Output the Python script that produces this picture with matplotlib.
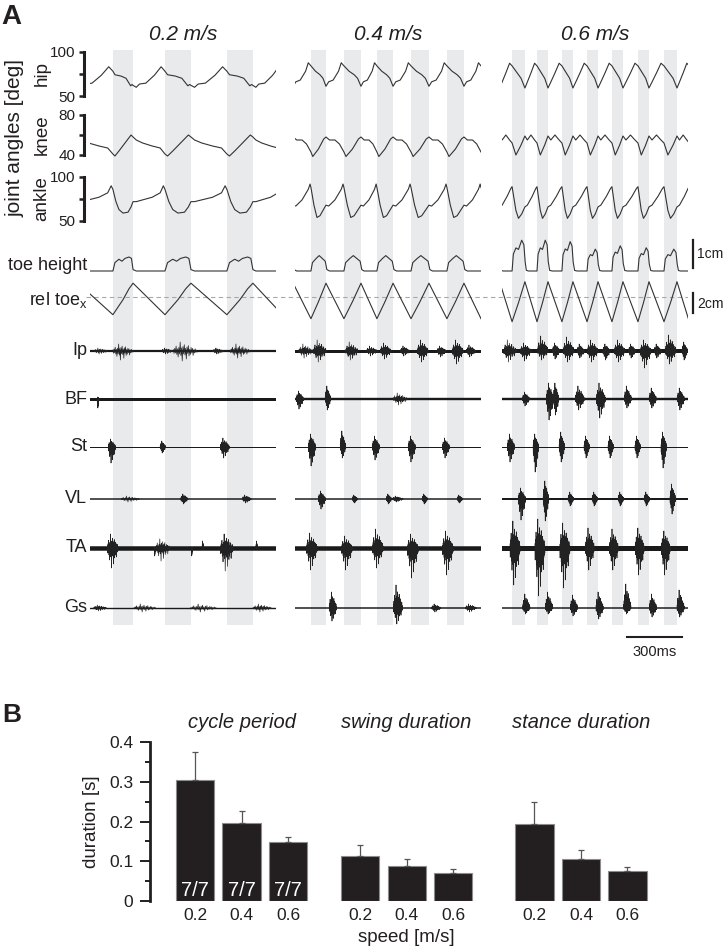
import numpy as np
import matplotlib
matplotlib.use('Agg')
import matplotlib.pyplot as plt
from matplotlib import font_manager
from matplotlib.transforms import blended_transform_factory

W, H = 726, 951
plt.rcParams['font.family'] = ['Liberation Sans', 'DejaVu Sans']
plt.rcParams['mathtext.fontset'] = 'custom'
plt.rcParams['mathtext.rm'] = 'Liberation Sans'
installed = {f.name for f in font_manager.fontManager.ttflist}
NARROW = 'Liberation Sans Narrow' if 'Liberation Sans Narrow' in installed else 'Liberation Sans'

TXT = '#231f20'
TRACE = '#333333'
BAND = '#e8eaec'

# ---------------- panel A data ----------------
speed_titles = ['0.2 m/s', '0.4 m/s', '0.6 m/s']
sweep_ms = 1015

# swing phases (grey bands) in ms, first/last pair sit just outside the window
swing_02 = [(-175, -65), (125, 235), (409, 551), (747, 889), (1050, 1160)]
swing_04 = [(-98, -10), (87, 169), (267, 360), (447, 535), (633, 731), (829, 922), (1015, 1105)]
swing_06 = [(-83, -13), (55, 125), (191, 251), (327, 387), (464, 524), (600, 660),
            (742, 802), (884, 955), (1022, 1092)]

# one step cycle per trace: (phase, value), phase 0-1 = swing, 1-2 = stance
hip_02 = [(0, 78), (0.1, 74), (0.4, 72.5), (0.65, 70), (0.88, 61.5), (0.95, 63), (1.0, 62),
          (1.1, 59.8), (1.2, 63.5), (1.4, 64.5), (1.67, 73.5), (1.88, 83)]
hip_04 = [(0, 84), (0.3, 78), (0.6, 74), (0.8, 70), (1.0, 61), (1.15, 66), (1.4, 68),
          (1.7, 78), (1.85, 87.5)]
hip_06 = [(0, 84), (0.4, 76), (0.7, 70), (1.0, 59), (1.15, 64), (1.5, 76), (1.8, 87)]

knee_02 = [(0, 41), (0.1, 39), (0.3, 44), (0.6, 52), (0.9, 60), (1.0, 58), (1.1, 55),
           (1.3, 52), (1.6, 49), (1.85, 47), (1.95, 43)]
knee_04 = [(0, 43), (0.12, 38.5), (0.5, 46), (0.85, 56), (1.0, 58), (1.2, 55), (1.5, 55),
           (1.75, 51)]
knee_06 = [(0, 52), (0.3, 40), (0.7, 50), (1.0, 59), (1.2, 55), (1.5, 60), (1.8, 55)]

ankle_02 = [(0, 86), (0.15, 72), (0.3, 63), (0.5, 59), (0.75, 60), (0.9, 66), (1.0, 72),
            (1.1, 72), (1.3, 74), (1.6, 77), (1.85, 82), (1.95, 90)]
ankle_04 = [(0, 88), (0.2, 68), (0.4, 54), (0.6, 56), (1.0, 68), (1.15, 67), (1.5, 74),
            (1.85, 86), (1.95, 92)]
ankle_06 = [(0, 89), (0.3, 62), (0.5, 53), (0.75, 58), (1.0, 66), (1.2, 68), (1.6, 78),
            (1.9, 87)]

toe_02 = [(0, 0), (0.1, 0.3), (0.3, 0.42), (0.45, 0.35), (0.6, 0.45), (0.8, 0.5),
          (0.92, 0.45), (1.0, 0.05), (1.1, 0)]
toe_04 = [(0, 0), (0.1, 0.3), (0.35, 0.45), (0.55, 0.55), (0.75, 0.45), (0.95, 0.35),
          (1.05, 0.05), (1.2, 0)]
toe_06 = [(0, 0), (0.1, 0.55), (0.3, 0.75), (0.5, 0.7), (0.75, 1.0), (0.92, 0.85),
          (1.02, 0.3), (1.12, 0.02), (1.3, 0)]
toe_peak_06 = [1.0, 1.1, 1.1, 1.05, 0.78, 0.9, 0.83, 0.78]

relx_02 = [(0, -1.8), (0.2, -1.2), (0.5, -0.3), (0.8, 0.8), (1.0, 1.35)]
relx_04 = [(0, -2.2), (0.5, -0.5), (1.0, 1.35)]
relx_06 = [(0, -2.5), (0.5, -0.6), (1.0, 1.5)]

joint_range = {'hip': (50, 100), 'knee': (40, 80), 'ankle': (50, 100)}

# EMG bursts: (time ms, width ms, upward size, downward size)
emg_names = ['Ip', 'BF', 'St', 'VL', 'TA', 'Gs']
ip_02 = [(60, 80, 3, 3), (180, 110, 7, 9), (420, 60, 3, 3), (520, 130, 9, 10), (700, 60, 3, 3),
         (820, 110, 7, 7)]
ip_04 = [(60, 80, 7, 7), (136, 70, 11, 11), (311, 70, 9, 9), (420, 60, 5, 5), (496, 60, 8, 8),
         (600, 50, 5, 5), (698, 60, 11, 11), (800, 50, 5, 6), (889, 60, 11, 13), (960, 50, 6, 6)]
ip_06 = [(44, 70, 11, 11), (130, 60, 8, 10), (224, 60, 15, 9), (295, 40, 8, 8), (365, 60, 14, 11),
         (430, 40, 7, 7), (496, 60, 11, 11), (570, 40, 7, 9), (643, 60, 11, 11), (710, 40, 7, 7),
         (785, 60, 11, 17), (850, 40, 7, 7), (921, 60, 16, 13), (998, 30, 9, 9)]
bf_02 = [(44, 10, 2, 9)]
bf_04 = [(27, 40, 8, 10), (180, 30, 13, 11), (575, 80, 6, 6)]
bf_06 = [(131, 40, 7, 7), (262, 40, 16, 21), (295, 30, 16, 16), (425, 50, 13, 11), (540, 50, 16, 19),
         (687, 40, 13, 9), (823, 40, 11, 9), (976, 40, 11, 11)]
st_02 = [(120, 40, 8, 16), (398, 30, 6, 6), (736, 50, 9, 11)]
st_04 = [(93, 40, 13, 19), (262, 30, 16, 11), (442, 40, 11, 13), (638, 40, 11, 15), (824, 40, 9, 11)]
st_06 = [(49, 40, 13, 15), (185, 30, 13, 25), (327, 30, 15, 15), (463, 30, 11, 11), (594, 30, 11, 11),
         (741, 30, 11, 11), (883, 30, 15, 21)]
vl_02 = [(220, 100, 3, 3), (515, 40, 5, 5), (855, 50, 4, 4)]
vl_04 = [(147, 40, 8, 10), (327, 30, 4, 4), (513, 30, 5, 5), (560, 60, 3, 3), (709, 30, 5, 5),
         (900, 30, 4, 4)]
vl_06 = [(109, 40, 11, 21), (240, 30, 18, 22), (376, 30, 7, 7), (507, 30, 7, 7), (649, 30, 7, 7),
         (791, 30, 7, 7), (932, 30, 15, 15)]
ta_02 = [(125, 60, 14, 20), (354, 8, 0, 8), (398, 80, 9, 13), (556, 8, 0, 8), (616, 8, 7, 0),
         (747, 70, 14, 23), (910, 8, 7, 0)]
ta_04 = [(93, 60, 15, 22), (284, 60, 12, 22), (453, 60, 19, 20), (644, 60, 14, 30), (835, 60, 17, 27)]
ta_06 = [(71, 55, 27, 37), (207, 55, 29, 48), (343, 55, 25, 40), (480, 50, 20, 22), (611, 50, 19, 22),
         (752, 50, 20, 27), (894, 50, 17, 27)]
gs_02 = [(55, 70, 3, 3), (300, 120, 4, 4), (620, 140, 4, 4), (940, 100, 4, 4)]
gs_04 = [(207, 40, 16, 13), (562, 50, 23, 16), (770, 50, 4, 4), (960, 60, 4, 4)]
gs_06 = [(133, 40, 14, 6), (257, 40, 16, 6), (393, 40, 13, 8), (533, 40, 16, 11), (684, 40, 24, 6),
         (824, 40, 14, 9), (975, 40, 18, 9)]
# relative spike shape inside one burst
emg_texture = [0.15, -0.25, 0.3, -0.2, 0.55, -0.35, 0.25, -0.6, 0.4, -0.3, 1.0, -0.45,
               0.35, -1.0, 0.5, -0.3, 0.7, -0.4, 0.3, -0.8, 0.45, -0.25, 0.6, -0.5,
               0.2, -0.35, 0.4, -0.2, 0.3, -0.45, 0.15, -0.2, 0.25, -0.15, 0.1, -0.1]

scalebar_ms = 300
scalebar_start_ms = 682

# ---------------- panel B data ----------------
bar_speeds = ['0.2', '0.4', '0.6']
cycle_mean = [0.305, 0.196, 0.149]
cycle_sd = [0.071, 0.031, 0.012]
swing_mean = [0.113, 0.088, 0.071]
swing_sd = [0.028, 0.018, 0.010]
stance_mean = [0.194, 0.106, 0.076]
stance_sd = [0.055, 0.022, 0.010]
group_titles = ['cycle period', 'swing duration', 'stance duration']
n_label = '7/7'


def fig_box(x0, y0, x1, y1):
    return [x0 / W, 1 - y1 / H, (x1 - x0) / W, (y1 - y0) / H]


def ftext(x, y, s, **kw):
    kw.setdefault('color', TXT)
    fig.text(x / W, 1 - y / H, s, **kw)


def tile(template, swings, peaks=None):
    ts, vs = [], []
    for k in range(len(swings) - 1):
        on, off = swings[k]
        nxt = swings[k + 1][0]
        s = 1.0 if peaks is None else peaks[k]
        for ph, v in template:
            t = on + ph * (off - on) if ph <= 1 else off + (ph - 1) * (nxt - off)
            ts.append(t)
            vs.append(v * s)
    ts.append(swings[-1][0])
    vs.append(template[0][1])
    return ts, vs


def clear(ax):
    ax.patch.set_visible(False)
    for sp in ax.spines.values():
        sp.set_visible(False)
    ax.set_xticks([])
    ax.set_yticks([])


fig = plt.figure(figsize=(W / 100, H / 100), dpi=100)

col_x = [(90, 276), (295, 481), (502, 688)]
swings = [swing_02, swing_04, swing_06]

# grey swing bands
for c in range(3):
    axb = fig.add_axes(fig_box(col_x[c][0], 50, col_x[c][1], 625))
    clear(axb)
    axb.set_xlim(0, sweep_ms)
    for on, off in swings[c]:
        axb.axvspan(on, off, color=BAND, lw=0)

# kinematic rows: name, axes box (px), two anchors (px, value)
kin_rows = [
    ('hip', (40, 108), (51.7, 100), (96, 50), [hip_02, hip_04, hip_06]),
    ('knee', (106, 166), (115, 80), (155, 40), [knee_02, knee_04, knee_06]),
    ('ankle', (166, 236), (177, 100), (221, 50), [ankle_02, ankle_04, ankle_06]),
    ('toe', (225, 285), (271, 0), (243, 1), [toe_02, toe_04, toe_06]),
    ('relx', (276, 332), (296.7, 0), (286.7, 1), [relx_02, relx_04, relx_06]),
]
toe_peaks = [None, None, toe_peak_06]
kin_axes = {}
for name, (yt, yb), (ya, va), (yb2, vb), temps in kin_rows:
    per_px = (va - vb) / (yb2 - ya)
    ylim = (va - (yb - ya) * per_px, va + (ya - yt) * per_px)
    if name == 'relx':
        axd = fig.add_axes(fig_box(86, yt, 688, yb))
        clear(axd)
        axd.set_ylim(*ylim)
        axd.axhline(0, color='#a8a8a8', lw=0.8, ls=(0, (4, 3)))
    for c in range(3):
        ax = fig.add_axes(fig_box(col_x[c][0], yt, col_x[c][1], yb))
        clear(ax)
        ax.set_xlim(0, sweep_ms)
        ax.set_ylim(*ylim)
        ts, vs = tile(temps[c], swings[c], toe_peaks[c] if name == 'toe' else None)
        ax.plot(ts, vs, color=TRACE, lw=0.8)
        kin_axes[(name, c)] = ax
        if c == 0 and name in joint_range:
            lo, hi = joint_range[name]
            sp = ax.spines['left']
            sp.set_visible(True)
            sp.set_position(('outward', 4.5))
            sp.set_bounds(lo, hi)
            sp.set_linewidth(2.2)
            sp.set_color(TXT)
            ax.set_yticks([lo, (lo + hi) / 2, hi])
            ax.set_yticklabels([str(lo), '', str(hi)])
            ax.tick_params(axis='y', direction='out', length=3.6, width=1.8, pad=2.5,
                           labelsize=11, colors=TXT)

# scale bars for toe traces
ax = kin_axes[('toe', 2)]
ax.plot([1042, 1042], [0.1, 1.1], color=TXT, lw=1.6, clip_on=False)
ax = kin_axes[('relx', 2)]
ax.plot([1042, 1042], [-1.6, 0.4], color=TXT, lw=1.6, clip_on=False)
ftext(697, 254, '1cm', fontsize=10, va='center', ha='left')
ftext(697, 304, '2cm', fontsize=10, va='center', ha='left')

# EMG rows
emg_y = [351, 399, 447, 499, 548, 608]
emg_data = [[ip_02, ip_04, ip_06], [bf_02, bf_04, bf_06], [st_02, st_04, st_06],
            [vl_02, vl_04, vl_06], [ta_02, ta_04, ta_06], [gs_02, gs_04, gs_06]]
emg_base_px = [[2.2, 3.0, 4.0], [3.0, 2.4, 2.4], [1.0, 1.0, 1.0], [1.5, 1.5, 2.0],
               [4.5, 4.5, 5.0], [1.4, 1.5, 1.5]]
tex = np.array(emg_texture)
for r, yc in enumerate(emg_y):
    for c in range(3):
        ax = fig.add_axes(fig_box(col_x[c][0], yc - 50, col_x[c][1], yc + 50))
        clear(ax)
        ax.set_xlim(0, sweep_ms)
        ax.set_ylim(-50, 50)
        ax.axhline(0, color='#1a1a1a', lw=emg_base_px[r][c] * 0.72)
        for t, w, up, dn in emg_data[r][c]:
            tt = np.linspace(t - w / 2, t + w / 2, len(tex))
            yy = np.where(tex > 0, tex * up, tex * dn)
            ax.plot(tt, yy, color='#222222', lw=0.5)
    ftext(87, yc, emg_names[r], fontsize=13, ha='right', va='center')

# 300 ms bar
axs = fig.add_axes(fig_box(col_x[2][0], 630, col_x[2][1], 644))
clear(axs)
axs.set_xlim(0, sweep_ms)
axs.set_ylim(-1, 1)
axs.plot([scalebar_start_ms, scalebar_start_ms + scalebar_ms], [0, 0], color=TXT, lw=1.5)
ftext(655, 652, '%dms' % scalebar_ms, fontsize=10.5, ha='center', va='center')

# panel A text
ftext(1, 4, 'A', fontsize=20, fontweight='bold', va='top', ha='left')
for c in range(3):
    ftext((col_x[c][0] + col_x[c][1]) / 2, 35, speed_titles[c], fontsize=15, style='italic',
          ha='center', va='center')
ftext(15, 138, 'joint angles [deg]', fontsize=15, rotation=90, ha='center', va='center')
for lab, yc in [('hip', 74), ('knee', 135), ('ankle', 199)]:
    ftext(42, yc, lab, fontsize=13.5, rotation=90, ha='center', va='center')
ftext(87, 265, 'toe height', fontsize=13, ha='right', va='center')
ftext(87, 300, r'rel toe$_\mathregular{x}$', fontsize=13, ha='right', va='center')

# ---------------- panel B ----------------
axB = fig.add_axes(fig_box(150, 742, 680, 901))
axB.patch.set_visible(False)
group_start = [0, 3.55, 7.3]
means = [cycle_mean, swing_mean, stance_mean]
sds = [cycle_sd, swing_sd, stance_sd]
positions, labels = [], []
for g in range(3):
    pos = [group_start[g] + i for i in range(3)]
    axB.bar(pos, means[g], width=0.82, color='#231f20', edgecolor='#8c8c8c', lw=0.8,
            yerr=[[0] * 3, sds[g]],
            error_kw=dict(ecolor='#555555', elinewidth=0.9, capsize=2.5, capthick=0.9))
    positions += pos
    labels += bar_speeds
    axB.text(pos[1], 1.12, group_titles[g], transform=blended_transform_factory(axB.transData, axB.transAxes),
             fontsize=14.5, style='italic', ha='center', va='center', color=TXT)
    if g == 0:
        for p in pos:
            axB.text(p, 0.003, n_label, color='white', fontsize=14.5, family=NARROW,
                     ha='center', va='bottom')
axB.set_xlim(-0.968, 10.43)
axB.set_ylim(0, 0.4)
for s in ['top', 'right', 'bottom']:
    axB.spines[s].set_visible(False)
axB.spines['left'].set_linewidth(2.0)
axB.spines['left'].set_color(TXT)
axB.spines['left'].set_bounds(0, 0.4)
axB.set_yticks([0, 0.1, 0.2, 0.3, 0.4])
axB.set_yticklabels(['0', '0.1', '0.2', '0.3', '0.4'], family=NARROW)
axB.set_yticks([0.05, 0.15, 0.25, 0.35], minor=True)
axB.tick_params(axis='y', which='major', direction='out', length=7, width=1.4, pad=5,
                labelsize=12.5, colors=TXT)
axB.tick_params(axis='y', which='minor', direction='out', length=3.5, width=1.4, colors=TXT)
axB.set_xticks(positions)
axB.set_xticklabels(labels, family=NARROW)
axB.tick_params(axis='x', length=0, pad=5, labelsize=12.5, colors=TXT)
axB.text(group_start[1] + 1, -0.23, 'speed [m/s]', transform=blended_transform_factory(axB.transData, axB.transAxes),
         fontsize=13.5, ha='center', va='center', color=TXT)
ftext(92, 822, 'duration [s]', fontsize=13.5, rotation=90, ha='center', va='center')
ftext(2, 703, 'B', fontsize=19, fontweight='bold', va='top', ha='left')

fig.savefig('out.png', dpi=100)
